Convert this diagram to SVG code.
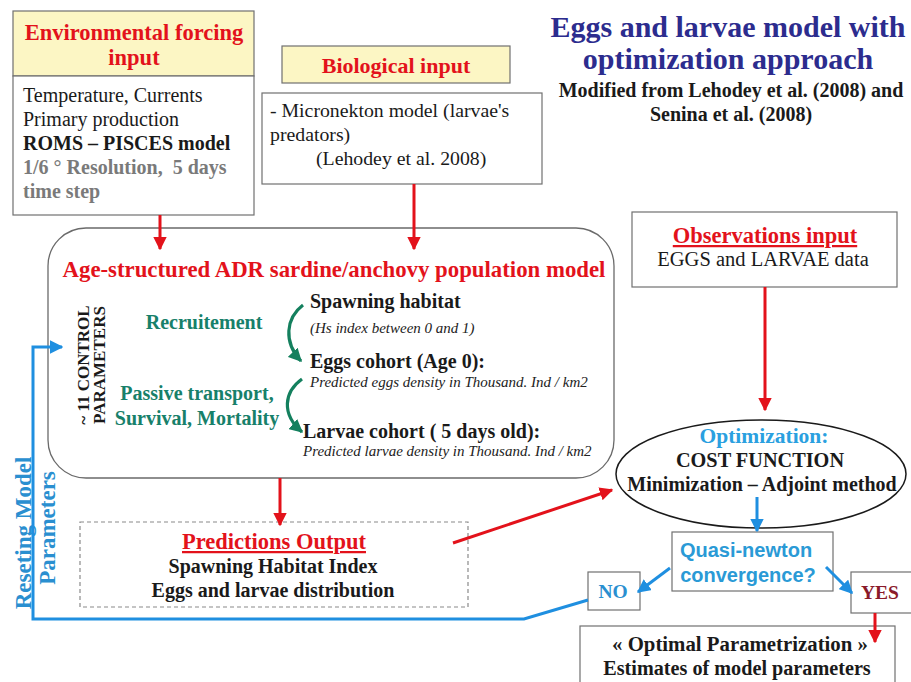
<svg xmlns="http://www.w3.org/2000/svg" width="911" height="682" viewBox="0 0 911 682">
  <defs>
    <style>
      text { font-family: "Liberation Serif", "Times New Roman", serif; }
      .sans { font-family: "Liberation Sans", Arial, sans-serif; }
      .box { fill: #ffffff; stroke: #707070; stroke-width: 1.2; }
      .hdr { fill: #fcf6c4; stroke: #707070; stroke-width: 1.2; }
      .red { fill: #e3121b; font-weight: bold; }
      .blk { fill: #1a1a1a; }
      .bold { font-weight: bold; }
      .teal { fill: #17806a; font-weight: bold; font-size: 20px; }
      .it { font-style: italic; font-size: 15px; fill: #222; }
      .blue { fill: #2a8fd0; font-weight: bold; }
      .redline { stroke: #e3121b; stroke-width: 3; fill: none; }
      .blueline { stroke: #1f8fe0; stroke-width: 3; fill: none; }
      .greenline { stroke: #14805e; stroke-width: 3.2; fill: none; }
    </style>
    <marker id="arrRed" viewBox="0 0 10 10" refX="9" refY="5" markerWidth="4.5" markerHeight="4.5" orient="auto">
      <path d="M0,0 L10,5 L0,10 z" fill="#e3121b"/>
    </marker>
    <marker id="arrBlue" viewBox="0 0 10 10" refX="9" refY="5" markerWidth="4.5" markerHeight="4.5" orient="auto">
      <path d="M0,0 L10,5 L0,10 z" fill="#1f8fe0"/>
    </marker>
    <marker id="arrGreen" viewBox="0 0 10 10" refX="9" refY="5" markerWidth="4.2" markerHeight="4.2" orient="auto">
      <path d="M0,0 L10,5 L0,10 z" fill="#14805e"/>
    </marker>
  </defs>

  <rect width="911" height="682" fill="#ffffff"/>

  <!-- Title -->
  <g id="title">
    <text x="728" y="37" text-anchor="middle" font-size="30" font-weight="bold" fill="#2c2c8e">Eggs and larvae model with</text>
    <text x="728" y="69" text-anchor="middle" font-size="30" font-weight="bold" fill="#2c2c8e">optimization approach</text>
    <text x="731" y="97" text-anchor="middle" font-size="20" class="bold blk">Modified from Lehodey et al. (2008) and</text>
    <text x="731" y="121" text-anchor="middle" font-size="20" class="bold blk">Senina et al. (2008)</text>
  </g>

  <!-- Environmental forcing input -->
  <g id="env-input">
    <rect class="hdr" x="13" y="11" width="241" height="65"/>
    <text x="134" y="40" text-anchor="middle" font-size="22.5" class="red">Environmental forcing</text>
    <text x="134" y="65" text-anchor="middle" font-size="22.5" class="red">input</text>
    <rect class="box" x="13" y="76" width="241" height="139"/>
    <text x="23" y="102" font-size="20" class="blk">Temperature, Currents</text>
    <text x="23" y="126" font-size="20" class="blk">Primary production</text>
    <text x="23" y="150" font-size="20" class="bold blk">ROMS – PISCES model</text>
    <text x="23" y="174" font-size="20" font-weight="bold" fill="#7a7a7a" xml:space="preserve">1/6 ° Resolution,  5 days</text>
    <text x="23" y="198" font-size="20" font-weight="bold" fill="#7a7a7a">time step</text>
  </g>

  <!-- Biological input -->
  <g id="bio-input">
    <rect class="hdr" x="282" y="46" width="228" height="37"/>
    <text x="396" y="73" text-anchor="middle" font-size="22" class="red">Biological input</text>
    <rect class="box" x="262" y="93" width="280" height="91"/>
    <text x="270" y="117" font-size="19.8" class="blk">- Micronekton model (larvae's</text>
    <text x="270" y="141" font-size="19.8" class="blk">predators)</text>
    <text x="316" y="165" font-size="19.8" class="blk">(Lehodey et al. 2008)</text>
  </g>

  <!-- Population model -->
  <g id="population-model">
    <rect x="48" y="228" width="566" height="250" rx="38" ry="38" fill="#ffffff" stroke="#6a6a6a" stroke-width="1.3"/>
    <text x="334" y="277" text-anchor="middle" font-size="22.8" class="red">Age-structured ADR sardine/anchovy population model</text>
    <text transform="translate(89,365) rotate(-90)" text-anchor="middle" font-size="17" class="bold blk">~ 11 CONTROL</text>
    <text transform="translate(105,365) rotate(-90)" text-anchor="middle" font-size="17" class="bold blk">PARAMETERS</text>
    <text x="204" y="329" text-anchor="middle" class="teal">Recruitement</text>
    <text x="197" y="400" text-anchor="middle" class="teal">Passive transport,</text>
    <text x="197" y="425" text-anchor="middle" class="teal">Survival, Mortality</text>
    <text x="310" y="308" font-size="20" class="bold blk">Spawning habitat</text>
    <text x="310" y="333" class="it">(Hs index between 0 and 1)</text>
    <text x="310" y="368" font-size="20" class="bold blk">Eggs cohort (Age 0):</text>
    <text x="310" y="387" class="it">Predicted eggs density in Thousand. Ind / km2</text>
    <text x="303" y="438" font-size="20" class="bold blk">Larvae cohort ( 5 days old):</text>
    <text x="303" y="456" class="it">Predicted larvae density in Thousand. Ind / km2</text>
    <path class="greenline" d="M303,305 C286,318 283,342 301,361" marker-end="url(#arrGreen)"/>
    <path class="greenline" d="M302,379 C284,392 281,414 302,432" marker-end="url(#arrGreen)"/>
  </g>

  <!-- Observations input -->
  <g id="obs-input">
    <rect class="box" x="632" y="212" width="265" height="75"/>
    <text x="765" y="243" text-anchor="middle" font-size="22.5" class="red" text-decoration="underline">Observations input</text>
    <text x="763" y="266" text-anchor="middle" font-size="20.5" class="blk">EGGS and LARVAE data</text>
  </g>

  <!-- Optimization ellipse -->
  <g id="optimization">
    <ellipse cx="761" cy="474" rx="145" ry="54" fill="#ffffff" stroke="#1a1a1a" stroke-width="1.5"/>
    <text x="764" y="443" text-anchor="middle" font-size="21.5" font-weight="bold" fill="#2aa0e0">Optimization:</text>
    <text x="760" y="467" text-anchor="middle" font-size="20.3" class="bold blk">COST FUNCTION</text>
    <text x="762" y="491" text-anchor="middle" font-size="20" class="bold blk">Minimization – Adjoint method</text>
  </g>

  <!-- Predictions output -->
  <g id="predictions">
    <rect x="80" y="522" width="388" height="85" fill="#ffffff" stroke="#8a8a8a" stroke-width="1.2" stroke-dasharray="4,3"/>
    <text x="274" y="549" text-anchor="middle" font-size="22.5" class="red" text-decoration="underline">Predictions Output</text>
    <text x="273" y="573" text-anchor="middle" font-size="20" class="bold blk">Spawning Habitat Index</text>
    <text x="273" y="597" text-anchor="middle" font-size="20" class="bold blk">Eggs and larvae distribution</text>
  </g>

  <!-- Quasi-newton test -->
  <g id="quasi-newton">
    <rect class="box" x="672" y="532" width="161" height="59"/>
    <text x="746" y="557" text-anchor="middle" font-size="20" font-weight="bold" fill="#2a9ad6" class="sans">Quasi-newton</text>
    <text x="748" y="582" text-anchor="middle" font-size="20" font-weight="bold" fill="#2a9ad6" class="sans">convergence?</text>
  </g>

  <g id="no">
    <rect class="box" x="588" y="572" width="52" height="38"/>
    <text x="613" y="598" text-anchor="middle" font-size="19.5" class="blue">NO</text>
  </g>

  <g id="yes">
    <rect class="box" x="851" y="572" width="64" height="41"/>
    <text x="880" y="599" text-anchor="middle" font-size="19.5" font-weight="bold" fill="#8a1a2a">YES</text>
  </g>

  <!-- Optimal parametrization -->
  <g id="optimal">
    <rect class="box" x="580" y="626" width="315" height="62"/>
    <text x="740" y="651" text-anchor="middle" font-size="20.8" class="bold blk">« Optimal Parametrization »</text>
    <text x="737" y="675" text-anchor="middle" font-size="20.2" class="bold blk">Estimates of model parameters</text>
  </g>

  <!-- Reset label -->
  <g id="reset-label">
    <text transform="translate(31,533) rotate(-90)" text-anchor="middle" font-size="23" class="blue">Reseting Model</text>
    <text transform="translate(55,528) rotate(-90)" text-anchor="middle" font-size="23" class="blue">Parameters</text>
  </g>

  <!-- Connectors -->
  <g id="connectors">
    <line class="redline" x1="160" y1="215" x2="160" y2="249" marker-end="url(#arrRed)"/>
    <line class="redline" x1="414" y1="184" x2="414" y2="249" marker-end="url(#arrRed)"/>
    <line class="redline" x1="280" y1="478" x2="280" y2="525" marker-end="url(#arrRed)"/>
    <line class="redline" x1="765" y1="287" x2="765" y2="410" marker-end="url(#arrRed)"/>
    <line class="redline" x1="453" y1="543" x2="612" y2="490" marker-end="url(#arrRed)"/>
    <line class="redline" x1="875" y1="613" x2="875" y2="642" marker-end="url(#arrRed)"/>
    <line class="blueline" x1="757" y1="497" x2="757" y2="531" marker-end="url(#arrBlue)"/>
    <line class="blueline" x1="670" y1="568" x2="638" y2="592" marker-end="url(#arrBlue)"/>
    <line class="blueline" x1="826" y1="567" x2="852" y2="593" marker-end="url(#arrBlue)"/>
    <polyline class="blueline" points="588,600 524,619 33,619 33,347 62,347" marker-end="url(#arrBlue)"/>
  </g>
</svg>
